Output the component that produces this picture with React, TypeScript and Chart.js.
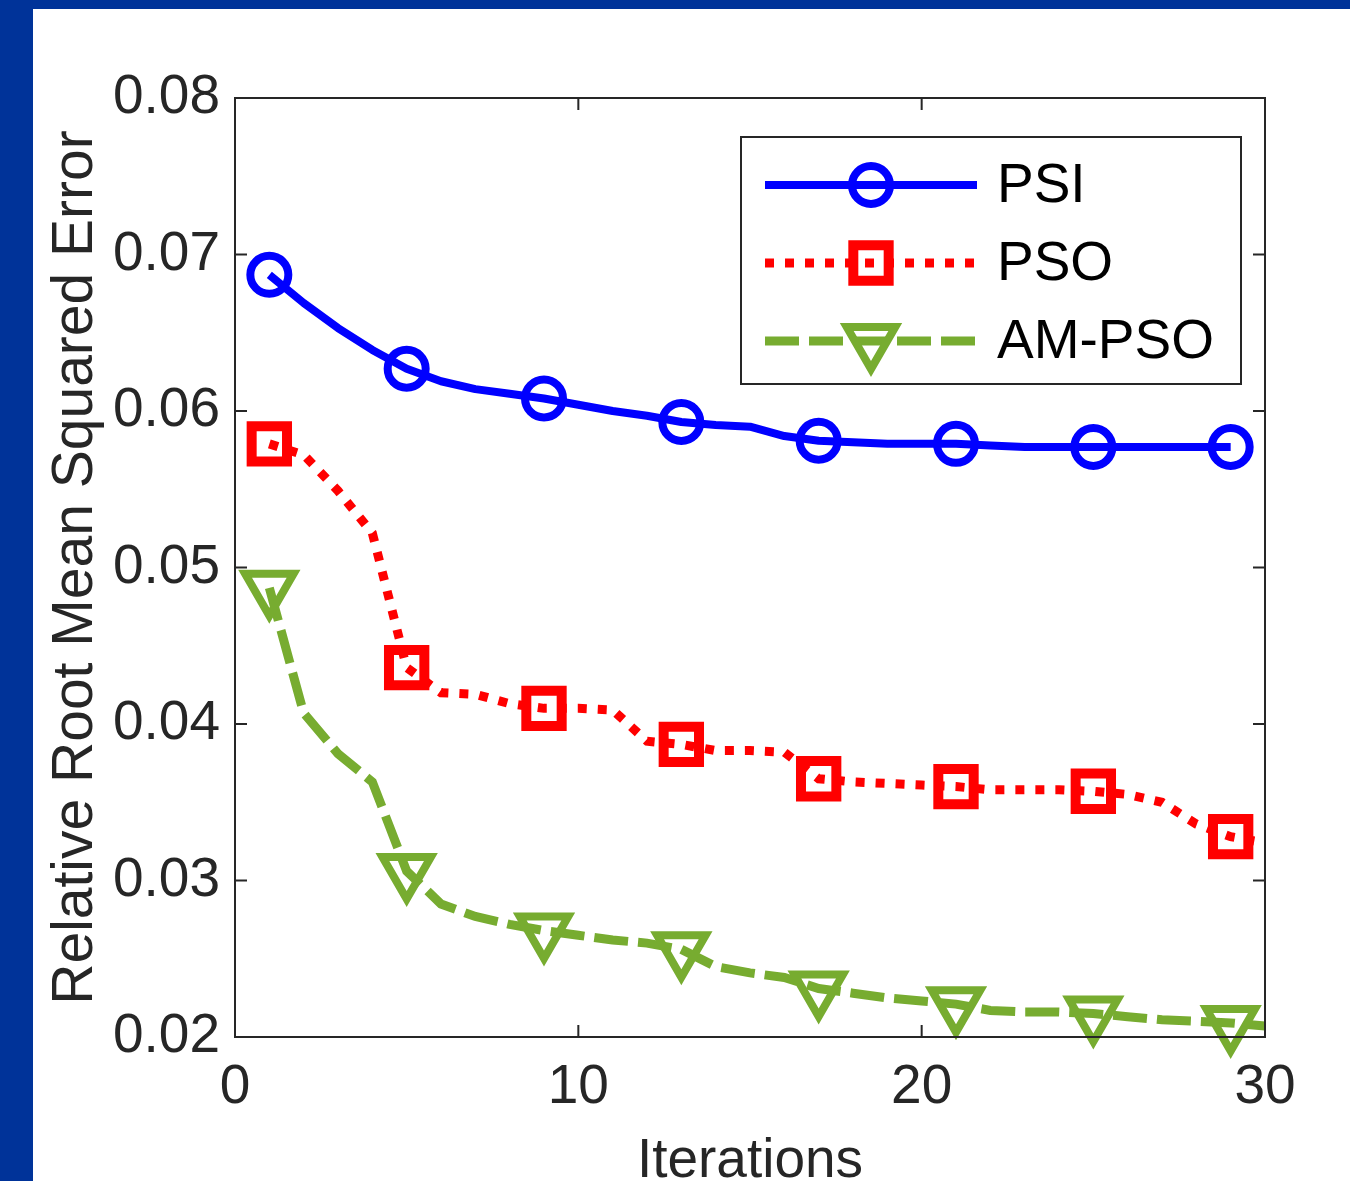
import React, { useEffect, useRef } from 'react';
import { Chart, registerables } from 'chart.js';
import { drawPoint } from 'chart.js/helpers';

Chart.register(...registerables);

const iterations = [1, 2, 3, 4, 5, 6, 7, 8, 9, 10, 11, 12, 13, 14, 15, 16, 17, 18, 19, 20, 21, 22, 23, 24, 25, 26, 27, 28, 29, 30];
const psi = [0.0687, 0.0669, 0.0653, 0.0639, 0.0627, 0.0619, 0.0614, 0.0611, 0.0608, 0.0604, 0.0600, 0.0597, 0.0593, 0.0591, 0.0590, 0.0584, 0.0581, 0.0580, 0.0579, 0.0579, 0.0579, 0.0578, 0.0577, 0.0577, 0.0577, 0.0577, 0.0577, 0.0577, 0.0577];
const pso = [0.0579, 0.0572, 0.0549, 0.0522, 0.0436, 0.0420, 0.0419, 0.0413, 0.0410, 0.0410, 0.0409, 0.0389, 0.0387, 0.0383, 0.0383, 0.0382, 0.0365, 0.0363, 0.0362, 0.0361, 0.0360, 0.0358, 0.0358, 0.0358, 0.0357, 0.0355, 0.0350, 0.0336, 0.0328, 0.0324];
const amPso = [0.0487, 0.0407, 0.0381, 0.0363, 0.0306, 0.0285, 0.0277, 0.0272, 0.0268, 0.0265, 0.0262, 0.0260, 0.0256, 0.0245, 0.0241, 0.0238, 0.0231, 0.0228, 0.0225, 0.0223, 0.0221, 0.0217, 0.0216, 0.0216, 0.0215, 0.0213, 0.0211, 0.0210, 0.0209, 0.0207];
const markerIterations = [1, 5, 9, 13, 17, 21, 25, 29];
const xTickValues = [0, 10, 20, 30];
const yTickValues = [0.02, 0.03, 0.04, 0.05, 0.06, 0.07, 0.08];
const seriesLabels = ['PSI', 'PSO', 'AM-PSO'];
const xTitle = 'Iterations';
const yTitle = 'Relative Root Mean Squared Error';

const W = 1350;
const H = 1181;
const FONT = '"Liberation Sans", Arial, Helvetica, sans-serif';
const AXIS = '#262626';

const toPoints = (vals: number[]) => vals.map((v, i) => ({ x: iterations[i], y: v }));
const radiusFor = (r: number) => iterations.map((it) => (markerIterations.includes(it) ? r : 0));

const framePlugin = {
  id: 'frame',
  afterDraw(chart: any) {
    const { ctx, chartArea: a } = chart;
    const xs = chart.scales.x;
    const ys = chart.scales.y;
    ctx.save();
    ctx.strokeStyle = AXIS;
    ctx.lineWidth = 2;
    ctx.beginPath();
    ctx.rect(a.left, a.top, a.right - a.left, a.bottom - a.top);
    ctx.stroke();
    const tl = 12;
    ctx.beginPath();
    xTickValues.forEach((v) => {
      const px = xs.getPixelForValue(v);
      ctx.moveTo(px, a.bottom);
      ctx.lineTo(px, a.bottom - tl);
      ctx.moveTo(px, a.top);
      ctx.lineTo(px, a.top + tl);
    });
    yTickValues.forEach((v) => {
      const py = ys.getPixelForValue(v);
      ctx.moveTo(a.left, py);
      ctx.lineTo(a.left + tl, py);
      ctx.moveTo(a.right, py);
      ctx.lineTo(a.right - tl, py);
    });
    ctx.stroke();
    ctx.restore();
  },
};

const legendPlugin = {
  id: 'matlabLegend',
  afterDraw(chart: any) {
    const { ctx, chartArea: a } = chart;
    const boxW = 500;
    const boxH = 247;
    const bx = a.right - 24 - boxW;
    const by = a.top + 39;
    ctx.save();
    ctx.fillStyle = '#ffffff';
    ctx.fillRect(bx, by, boxW, boxH);
    ctx.strokeStyle = AXIS;
    ctx.lineWidth = 2;
    ctx.strokeRect(bx, by, boxW, boxH);
    chart.data.datasets.forEach((ds: any, i: number) => {
      const y = by + 48 + i * 78;
      const x0 = bx + 24;
      const x1 = bx + 236;
      ctx.save();
      ctx.strokeStyle = ds.borderColor;
      ctx.lineWidth = ds.borderWidth;
      ctx.lineCap = 'butt';
      ctx.setLineDash(ds.borderDash || []);
      ctx.beginPath();
      ctx.moveTo(x0, y);
      ctx.lineTo(x1, y);
      ctx.stroke();
      ctx.setLineDash([]);
      ctx.strokeStyle = ds.pointBorderColor;
      ctx.fillStyle = 'rgba(0,0,0,0)';
      ctx.lineWidth = ds.pointBorderWidth;
      drawPoint(ctx, { pointStyle: ds.pointStyle, rotation: ds.pointRotation || 0, radius: ds.legendRadius, borderWidth: ds.pointBorderWidth }, (x0 + x1) / 2, y);
      ctx.restore();
      ctx.fillStyle = '#000000';
      ctx.font = `55px ${FONT}`;
      ctx.textAlign = 'left';
      ctx.textBaseline = 'middle';
      ctx.fillText(ds.label, bx + 256, y + 2);
    });
    ctx.restore();
  },
};

export default function App() {
  const ref = useRef<HTMLCanvasElement | null>(null);
  useEffect(() => {
    if (!ref.current) return;
    const chart = new Chart(ref.current, {
      type: 'line',
      data: {
        datasets: [
          {
            label: seriesLabels[0],
            data: toPoints(psi),
            borderColor: '#0000ff',
            borderWidth: 8,
            pointStyle: 'circle',
            pointRadius: radiusFor(19),
            legendRadius: 19,
            pointBorderWidth: 8,
            pointBorderColor: '#0000ff',
            pointBackgroundColor: 'rgba(0,0,0,0)',
            borderJoinStyle: 'round',
            tension: 0,
            clip: false,
          } as any,
          {
            label: seriesLabels[1],
            data: toPoints(pso),
            borderColor: '#ff0000',
            borderWidth: 9,
            borderDash: [9, 11],
            pointStyle: 'rect',
            pointRadius: radiusFor(25),
            legendRadius: 25,
            pointBorderWidth: 10,
            pointBorderColor: '#ff0000',
            pointBackgroundColor: 'rgba(0,0,0,0)',
            tension: 0,
            clip: { left: 0, top: 0, right: 0, bottom: false } as any,
          } as any,
          {
            label: seriesLabels[2],
            data: toPoints(amPso),
            borderColor: '#77ac30',
            borderWidth: 9,
            borderDash: [34, 10],
            pointStyle: 'triangle',
            pointRotation: 180,
            pointRadius: radiusFor(28),
            legendRadius: 28,
            pointBorderWidth: 8,
            pointBorderColor: '#77ac30',
            pointBackgroundColor: 'rgba(0,0,0,0)',
            tension: 0,
            clip: false,
          } as any,
        ],
      },
      options: {
        animation: false,
        responsive: false,
        maintainAspectRatio: false,
        layout: { padding: { top: 98, right: W - 1265, left: 0, bottom: 0 } },
        plugins: { legend: { display: false }, tooltip: { enabled: false } },
        scales: {
          x: {
            type: 'linear',
            min: 0,
            max: 30,
            afterBuildTicks: (s: any) => { s.ticks = xTickValues.map((v) => ({ value: v })); },
            afterFit: (s: any) => { s.height = H - 1037; },
            grid: { display: false, drawTicks: false },
            border: { display: false },
            ticks: { color: AXIS, font: { size: 55, family: FONT }, padding: 18, maxRotation: 0, callback: (v: any) => String(v) },
            title: { display: true, text: xTitle, color: AXIS, font: { size: 55, family: FONT, lineHeight: 0.5 }, padding: { top: 0, bottom: 5 } },
          },
          y: {
            type: 'linear',
            min: 0.02,
            max: 0.08,
            afterBuildTicks: (s: any) => { s.ticks = yTickValues.map((v) => ({ value: v })); },
            afterFit: (s: any) => { s.width = 235; },
            grid: { display: false, drawTicks: false },
            border: { display: false },
            ticks: { color: AXIS, font: { size: 55, family: FONT }, padding: 15, callback: (v: any) => Number(v).toFixed(2) },
            title: { display: true, text: yTitle, color: AXIS, font: { size: 57, family: FONT }, padding: { top: 42, bottom: 0 } },
          },
        },
      },
      plugins: [framePlugin, legendPlugin],
    } as any);
    return () => chart.destroy();
  }, []);

  return (
    <div style={{ position: 'fixed', left: 0, top: 0, width: W, height: H, background: '#003399', overflow: 'hidden' }}>
      <div style={{ position: 'absolute', left: 33, top: 9, right: 0, bottom: 0, background: '#ffffff' }} />
      <canvas ref={ref} width={W} height={H} style={{ position: 'absolute', left: 0, top: 0, width: W, height: H }} />
    </div>
  );
}
